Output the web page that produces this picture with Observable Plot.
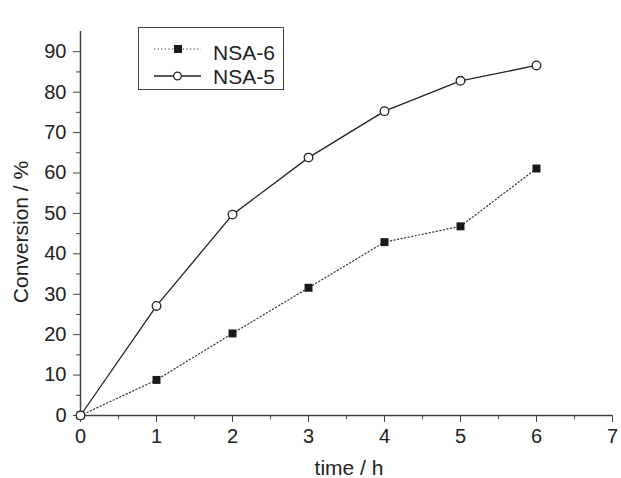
<!DOCTYPE html>
<html>
<head>
<meta charset="utf-8">
<script src="https://cdn.jsdelivr.net/npm/d3@7"></script>
<script src="https://cdn.jsdelivr.net/npm/@observablehq/plot@0.6"></script>
<style>
  body { margin: 0; background: #fff; }
  #wrap { position: relative; width: 621px; height: 478px; font-family: "Liberation Sans", Arial, sans-serif; }
  #legend { position: absolute; left: 138px; top: 27px; width: 146px; height: 63px; border: 1px solid #444; box-sizing: border-box; background: #fff; }
  #legend svg { position: absolute; left: 0; top: 0; }
  #titles { position: absolute; left: 0; top: 0; pointer-events: none; }
</style>
</head>
<body>
<div id="wrap">
  <div id="chart"></div>
  <div id="legend"></div>
  <svg id="titles" width="621" height="478"></svg>
</div>
<script>
const times = [0, 1, 2, 3, 4, 5, 6];
const nsa6 = [0, 8.8, 20.3, 31.6, 42.9, 46.8, 61.1];
const nsa5 = [0, 27.1, 49.7, 63.8, 75.3, 82.8, 86.6];
const seriesNames = ["NSA-6", "NSA-5"];
const xTicks = [0, 1, 2, 3, 4, 5, 6, 7];
const xMinor = [0.5, 1.5, 2.5, 3.5, 4.5, 5.5, 6.5];
const yTicks = [0, 10, 20, 30, 40, 50, 60, 70, 80, 90];
const yMinor = [5, 15, 25, 35, 45, 55, 65, 75, 85];
const xTitle = "time / h";
const yTitle = "Conversion / %";

const d6 = times.map((t, i) => ({t, v: nsa6[i]}));
const d5 = times.map((t, i) => ({t, v: nsa5[i]}));
const axisColor = "#444";

const chart = Plot.plot({
  width: 621,
  height: 478,
  marginLeft: 80,
  marginRight: 9,
  marginTop: 31,
  marginBottom: 63,
  style: { fontFamily: "'Liberation Sans', Arial, sans-serif", fontSize: "20px", color: "#222", background: "#fff" },
  x: { domain: [0, 7] },
  y: { domain: [0, 95] },
  marks: [
    Plot.axisX(xMinor, { tickSize: 4, text: null, stroke: axisColor, label: null }),
    Plot.axisX(xTicks, { tickSize: 7, tickPadding: 6, stroke: axisColor, fontSize: 20, label: null }),
    Plot.axisY(yMinor, { tickSize: 4, text: null, stroke: axisColor, label: null }),
    Plot.axisY(yTicks, { tickSize: 7, tickPadding: 7, stroke: axisColor, fontSize: 20, label: null }),
    Plot.ruleY([0], { stroke: axisColor, strokeWidth: 1.5 }),
    Plot.ruleX([0], { stroke: axisColor, strokeWidth: 1.5 }),
    Plot.line(d6, { x: "t", y: "v", stroke: "#333", strokeWidth: 1.2, strokeDasharray: "1.2,2.4" }),
    Plot.line(d5, { x: "t", y: "v", stroke: "#222", strokeWidth: 1.3 }),
    Plot.dot(d6, { x: "t", y: "v", symbol: "square", r: 4.5, fill: "#1a1a1a", stroke: "none" }),
    Plot.dot(d5, { x: "t", y: "v", symbol: "circle", r: 4.3, fill: "#fff", stroke: "#222", strokeWidth: 1.3 })
  ]
});
document.getElementById("chart").appendChild(chart);

// Axis titles
const titles = d3.select("#titles");
titles.append("text")
  .attr("x", 349).attr("y", 475)
  .attr("text-anchor", "middle")
  .attr("font-family", "'Liberation Sans', Arial, sans-serif")
  .attr("font-size", 21).attr("fill", "#222")
  .text(xTitle);
titles.append("text")
  .attr("transform", "translate(28,232) rotate(-90)")
  .attr("text-anchor", "middle")
  .attr("font-family", "'Liberation Sans', Arial, sans-serif")
  .attr("font-size", 21).attr("fill", "#222")
  .text(yTitle);

// Legend
const lg = d3.select("#legend").append("svg").attr("width", 146).attr("height", 63);
seriesNames.forEach((name, i) => {
  const cy = i === 0 ? 21 : 48;
  const ty = i === 0 ? 24 : 48;
  const line = lg.append("line").attr("x1", 15).attr("x2", 62).attr("y1", cy).attr("y2", cy);
  if (i === 0) {
    line.attr("stroke", "#333").attr("stroke-width", 1.2).attr("stroke-dasharray", "1.2,2.4");
    lg.append("rect").attr("x", 35).attr("y", cy - 4).attr("width", 8).attr("height", 8).attr("fill", "#1a1a1a");
  } else {
    line.attr("stroke", "#222").attr("stroke-width", 1.3);
    lg.append("circle").attr("cx", 38.5).attr("cy", cy).attr("r", 3.8).attr("fill", "#fff").attr("stroke", "#222").attr("stroke-width", 1.3);
  }
  lg.append("text").attr("x", 74).attr("y", ty).attr("dy", "0.36em")
    .attr("font-family", "'Liberation Sans', Arial, sans-serif")
    .attr("font-size", 21).attr("fill", "#222").text(name);
});
</script>
</body>
</html>
